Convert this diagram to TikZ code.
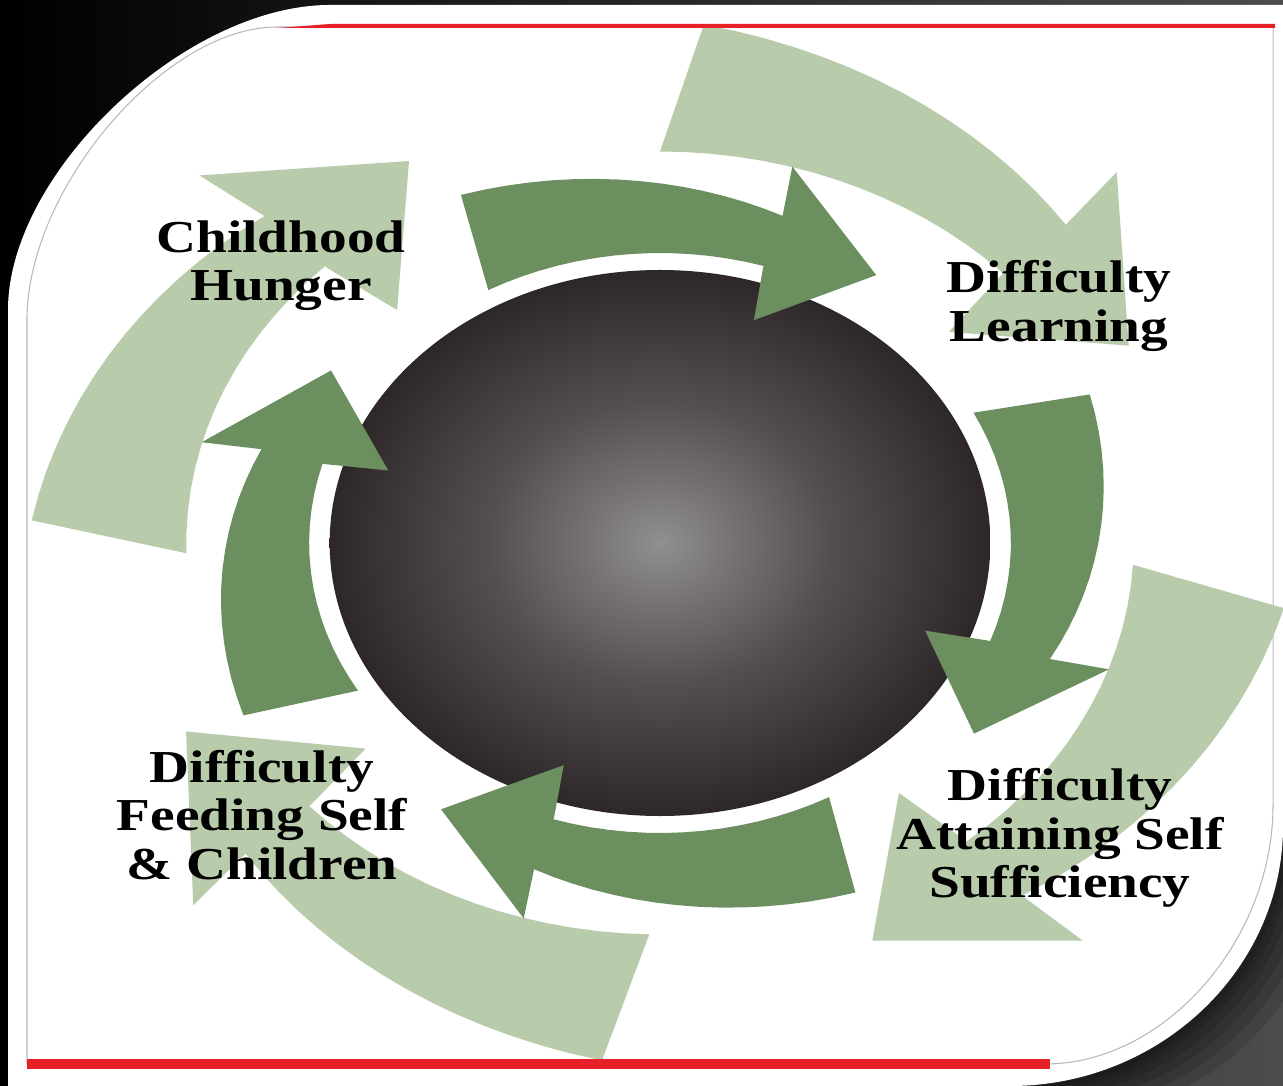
\documentclass[tikz,border=0pt]{standalone}
\usepackage{fontspec}
\usepackage{tikz}
\newfontfamily\cyclefont{Liberation Serif}[FakeStretch=1.21]
\definecolor{leafdark}{RGB}{107,143,94}
\definecolor{leaflight}{RGB}{184,203,170}
\definecolor{slidered}{RGB}{232,32,40}
\definecolor{globein}{RGB}{145,143,143}
\definecolor{globemid}{RGB}{84,78,79}
\definecolor{globeout}{RGB}{46,39,41}
\pgfdeclareradialshading{globe}{\pgfpoint{0bp}{0bp}}{color(0bp)=(globein); color(5bp)=(globein!60!globemid); color(13bp)=(globemid); color(25bp)=(globeout); color(50bp)=(globeout)}
\tikzset{
	stage/.style={font=\cyclefont\bfseries\fontsize{13}{13.7}\selectfont, align=center, inner sep=0pt},
	panel outline/.style={insert path={(8,310) .. controls (8,173) and (185,5) .. (330,5) -- (1283,5) -- (1283,826) .. controls (1283,969) and (1160,1086) .. (1010,1086) -- (8,1086) -- cycle}},
}
\newcommand{\cyclearrow}[3]{%
	\fill[#1, rotate=#2, scale=#3] plot[domain=0:-42.5, samples=16] (\x:{385+\x}) -- (-41.5:392) -- (-59:322) -- (-44.5:236) -- (-42.5:288) -- plot[domain=-42.5:4, samples=16] (\x:290) -- cycle;
}

\begin{document}
\begin{tikzpicture}[x=0.01cm, y=-0.01cm]
	\useasboundingbox (0,0) rectangle (1283,1086);
	\shade[left color=black, right color=black!70] (0,0) rectangle (1283,1086);
	\foreach \dx/\dy in {44/34, 34/26, 25/19, 17/13, 10/8, 5/4}
		\fill[black, opacity=0.12, shift={(\dx,\dy)}, panel outline];
	\fill[white, panel outline];
	\draw[gray!55, line width=0.3pt] (27,1064) -- (27,320) .. controls (27,188) and (165,27) .. (277,27) -- (1273,27) -- (1273,805) .. controls (1273,940) and (1165,1064) .. (1045,1064);

	\coordinate (hub) at (660,543);
	\begin{scope}[shift={(hub)}, x=0.01cm, y=0.01cm, xscale=1.21]
		\cyclearrow{leaflight}{86}{1.35}
		\cyclearrow{leaflight}{-7.2}{1.35}
		\cyclearrow{leaflight}{-95.3}{1.35}
		\cyclearrow{leaflight}{177.5}{1.35}
		\shade[shading=globe] (0,0) circle (273);
		\cyclearrow{leafdark}{115.3}{1}
		\cyclearrow{leafdark}{22.7}{1}
		\cyclearrow{leafdark}{-65.2}{1}
		\cyclearrow{leafdark}{-153.4}{1}
	\end{scope}

	\fill[slidered] (277,28) -- (330,24) -- (1275,24) -- (1275,28) -- cycle;
	\fill[slidered] (27,1059) rectangle (1050,1069);

	\node[stage] (hunger) at (281,266) {Childhood\\Hunger};
	\node[stage] (learning) at (1059,306) {Difficulty\\Learning};
	\node[stage] (feeding) at (262,815) {Difficulty\\Feeding Self\\\& Children};
	\node[stage] (selfsuff) at (1060,838) {Difficulty\\Attaining Self\\Sufficiency};
\end{tikzpicture}
\end{document}
